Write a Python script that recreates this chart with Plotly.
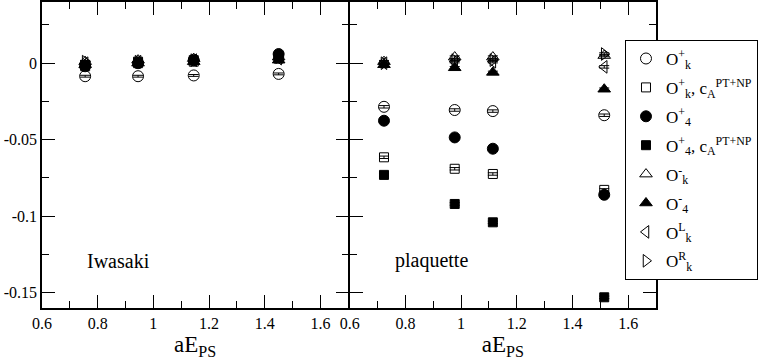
import plotly.graph_objects as go

# aE_PS values for the two actions
x_iwasaki = [0.755, 0.945, 1.145, 1.45]
x_plaquette = [0.723, 0.977, 1.114, 1.514]

# Iwasaki series
iw_Okp = [-0.0085, -0.0085, -0.008, -0.007]
iw_Okp_cA = [-0.002, 0.0, 0.001, 0.003]
iw_O4p = [-0.002, 0.0, 0.002, 0.006]
iw_O4p_cA = [-0.001, 0.001, 0.002, 0.004]
iw_Okm = [0.001, 0.002, 0.003, 0.004]
iw_O4m = [-0.001, 0.0, 0.001, 0.002]
iw_OkL = [0.0, 0.001, 0.002, 0.003]
iw_OkR = [0.001, 0.001, 0.002, 0.004]
iw_err = [0.0006, 0.0006, 0.0006, 0.0006]

# plaquette series
pl_Okp = [-0.0285, -0.0306, -0.0313, -0.034]
pl_Okp_cA = [-0.0615, -0.069, -0.0724, -0.0828]
pl_O4p = [-0.0376, -0.0485, -0.0559, -0.086]
pl_O4p_cA = [-0.073, -0.092, -0.104, -0.153]
pl_Okm = [0.001, 0.004, 0.004, 0.005]
pl_O4m = [-0.001, -0.003, -0.006, -0.017]
pl_OkL = [0.0, 0.001, 0.001, -0.0024]
pl_OkR = [0.0, 0.002, 0.002, 0.006]
pl_err = [0.0008, 0.0008, 0.0008, 0.0008]

y_tick_vals = [0, -0.05, -0.1, -0.15]
y_tick_text = ['0', '-0.05', '-0.1', '-0.15']

names = [
    'O<sup>+</sup><sub>k</sub>',
    'O<sup>+</sup><sub>k</sub>, c<sub>A</sub><sup>PT+NP</sup>',
    'O<sup>+</sup><sub>4</sub>',
    'O<sup>+</sup><sub>4</sub>, c<sub>A</sub><sup>PT+NP</sup>',
    'O<sup>-</sup><sub>k</sub>',
    'O<sup>-</sup><sub>4</sub>',
    'O<sup>L</sup><sub>k</sub>',
    'O<sup>R</sup><sub>k</sub>',
]
symbols = ['circle-open', 'square-open', 'circle', 'square',
           'triangle-up-open', 'triangle-up', 'triangle-left-open', 'triangle-right-open']
sizes = [11, 9, 11, 9, 11, 11, 11, 11]

iw_series = [iw_Okp, iw_Okp_cA, iw_O4p, iw_O4p_cA, iw_Okm, iw_O4m, iw_OkL, iw_OkR]
pl_series = [pl_Okp, pl_Okp_cA, pl_O4p, pl_O4p_cA, pl_Okm, pl_O4m, pl_OkL, pl_OkR]

FONT = 'Liberation Serif, Times New Roman, serif'
LW = 1.5
gap = LW / 2 / 614  # so the two inner frame lines fall on the same pixels

fig = go.Figure()

for i in range(len(names)):
    mk = dict(symbol=symbols[i], size=sizes[i], color='black',
              line=dict(color='black', width=1))
    # Iwasaki panel
    fig.add_trace(go.Scatter(
        x=x_iwasaki, y=iw_series[i], mode='markers', marker=mk,
        error_y=dict(type='data', array=iw_err, color='black', thickness=1, width=5),
        name=names[i], legendgroup=str(i), showlegend=False,
        xaxis='x', yaxis='y'))
    # plaquette panel
    fig.add_trace(go.Scatter(
        x=x_plaquette, y=pl_series[i], mode='markers', marker=mk,
        error_y=dict(type='data', array=pl_err, color='black', thickness=1, width=5),
        name=names[i], legendgroup=str(i), showlegend=True,
        xaxis='x2', yaxis='y2'))

xax = dict(range=[0.6, 1.7], tick0=0.6, dtick=0.2, ticks='inside', ticklen=13,
           tickwidth=1, tickcolor='black', showline=True, linecolor='black',
           linewidth=LW, mirror='allticks', showgrid=False, zeroline=False, automargin=False,
           minor=dict(ticks='inside', ticklen=7, dtick=0.1, tick0=0.6, tickcolor='black', showgrid=False),
           tickfont=dict(family=FONT, size=16, color='black'),
           title=dict(text='aE<sub>PS</sub>', font=dict(family=FONT, size=23, color='black'), standoff=0))
yax = dict(range=[-0.16, 0.04], tickvals=y_tick_vals, ticktext=y_tick_text,
           ticks='inside', ticklen=13, tickwidth=1, tickcolor='black',
           showline=True, linecolor='black', linewidth=LW, mirror='allticks',
           showgrid=False, zeroline=False, automargin=False,
           minor=dict(ticks='inside', ticklen=7, dtick=0.025, tick0=0, tickcolor='black', showgrid=False),
           tickfont=dict(family=FONT, size=16, color='black'))

fig.update_layout(
    width=763, height=360,
    margin=dict(l=42, r=107, t=2, b=52, autoexpand=False),
    paper_bgcolor='white', plot_bgcolor='white',
    font=dict(family=FONT, color='black'),
    xaxis=dict(xax, domain=[0, 0.5 - gap], anchor='y'),
    yaxis=dict(yax, domain=[0, 1], anchor='x'),
    xaxis2=dict(xax, domain=[0.5 + gap, 1], anchor='y2'),
    yaxis2=dict(yax, domain=[0, 1], anchor='x2', showticklabels=False),
    legend=dict(x=0.9495, y=0.876, xanchor='left', yanchor='top',
                bgcolor='white', bordercolor='black', borderwidth=1,
                font=dict(family=FONT, size=17, color='black'),
                tracegroupgap=3.8, itemwidth=30),
    showlegend=True,
    annotations=[
        dict(text='Iwasaki', x=0.756, y=-0.129, xref='x', yref='y', xanchor='left',
             showarrow=False, font=dict(family=FONT, size=20, color='black')),
        dict(text='plaquette', x=0.756, y=-0.129, xref='x2', yref='y2', xanchor='left',
             showarrow=False, font=dict(family=FONT, size=20, color='black')),
    ],
)

# drop the browser's default page margin so the figure sits at the top-left corner
fig.write_html("out.html", config={'displayModeBar': False},
               post_script="document.body.style.margin='0px';")
